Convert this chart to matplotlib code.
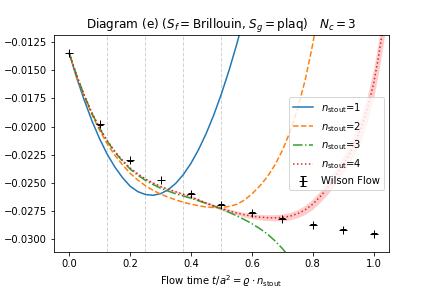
# Curvas de n_stout frente al flujo de Wilson
# diagrama (e) con accion Brillouin y plaqueta

# Para calculos numericos
import numpy as np

# Para crear graficas
import matplotlib
matplotlib.use("Agg")
import matplotlib.pyplot as plt

# puntos del flujo de Wilson
Tiempo_wilson = [0.0, 0.1, 0.2, 0.3, 0.4, 0.5, 0.6, 0.7, 0.8, 0.9, 1.0]
Valor_wilson = [-0.01348, -0.0198, -0.02300, -0.02475, -0.02597, -0.02695,
                -0.02766, -0.02819, -0.02872, -0.02917, -0.02952]
Error_wilson = [0.00003] * 11

# n_stout = 1
Tiempo_1 = [0.0, 0.025, 0.05, 0.075, 0.1, 0.125, 0.15, 0.175, 0.2, 0.225,
            0.25, 0.275, 0.3, 0.325, 0.35, 0.375, 0.4, 0.425, 0.45, 0.475,
            0.5, 0.525, 0.55, 0.575]
Valor_1 = [-0.01348, -0.01571, -0.01770, -0.01952, -0.02110, -0.02247,
           -0.02360, -0.02454, -0.02530, -0.02578, -0.02604, -0.02611,
           -0.02597, -0.02562, -0.02505, -0.02427, -0.02327, -0.02205,
           -0.02062, -0.01897, -0.01710, -0.01502, -0.01273, -0.01023]

# n_stout = 2
Tiempo_2 = [0.0, 0.025, 0.05, 0.075, 0.1, 0.125, 0.15, 0.175, 0.2, 0.225,
            0.25, 0.275, 0.3, 0.325, 0.35, 0.375, 0.4, 0.425, 0.45, 0.475,
            0.5, 0.525, 0.55, 0.575, 0.6, 0.625, 0.65, 0.675, 0.7, 0.725,
            0.75, 0.775, 0.8, 0.825]
Valor_2 = [-0.01348, -0.01560, -0.01735, -0.01895, -0.02035, -0.02155,
           -0.02255, -0.02340, -0.02415, -0.02475, -0.02525, -0.02566,
           -0.02600, -0.02628, -0.02652, -0.02673, -0.02690, -0.02704,
           -0.02715, -0.02720, -0.02720, -0.02710, -0.02692, -0.02655,
           -0.02600, -0.02532, -0.02450, -0.02345, -0.02215, -0.02050,
           -0.01845, -0.01590, -0.01270, -0.00880]

# n_stout = 3
Tiempo_3 = [0.0, 0.025, 0.05, 0.075, 0.1, 0.125, 0.15, 0.175, 0.2, 0.225,
            0.25, 0.275, 0.3, 0.325, 0.35, 0.375, 0.4, 0.425, 0.45, 0.475,
            0.5, 0.525, 0.55, 0.575, 0.6, 0.625, 0.65, 0.675, 0.7, 0.72]
Valor_3 = [-0.01348, -0.01550, -0.01728, -0.01885, -0.02018, -0.02130,
           -0.02228, -0.02308, -0.02378, -0.02432, -0.02478, -0.02515,
           -0.02548, -0.02574, -0.02598, -0.02618, -0.02638, -0.02660,
           -0.02683, -0.02707, -0.02733, -0.02762, -0.02793, -0.02826,
           -0.02863, -0.02905, -0.02953, -0.03013, -0.03083, -0.03150]

# n_stout = 4 con banda de error
Tiempo_4 = [0.0, 0.025, 0.05, 0.075, 0.1, 0.125, 0.15, 0.175, 0.2, 0.225,
            0.25, 0.275, 0.3, 0.325, 0.35, 0.375, 0.4, 0.425, 0.45, 0.475,
            0.5, 0.525, 0.55, 0.575, 0.6, 0.625, 0.65, 0.675, 0.7, 0.725,
            0.75, 0.775, 0.8, 0.825, 0.85, 0.875, 0.9, 0.92, 0.94, 0.96,
            0.98, 1.0, 1.015, 1.03, 1.045]
Valor_4 = [-0.01348, -0.01550, -0.01725, -0.01880, -0.02012, -0.02125,
           -0.02220, -0.02300, -0.02368, -0.02420, -0.02465, -0.02500,
           -0.02532, -0.02557, -0.02580, -0.02602, -0.02625, -0.02652,
           -0.02680, -0.02705, -0.02728, -0.02749, -0.02768, -0.02784,
           -0.02796, -0.02805, -0.02810, -0.02811, -0.02808, -0.02797,
           -0.02775, -0.02740, -0.02690, -0.02622, -0.02540, -0.02445,
           -0.02340, -0.02245, -0.02140, -0.02010, -0.01840, -0.01620,
           -0.01400, -0.01140, -0.00850]
Error_4 = [0.0, 0.000005, 0.00001, 0.000015, 0.00002, 0.000025, 0.00003,
           0.000035, 0.00004, 0.000045, 0.00005, 0.000055, 0.00006,
           0.00007, 0.00008, 0.00009, 0.0001, 0.00011, 0.00012, 0.000135,
           0.00015, 0.000165, 0.00018, 0.0002, 0.00022, 0.00024, 0.00026,
           0.00028, 0.0003, 0.00033, 0.00036, 0.0004, 0.00045, 0.0005,
           0.00058, 0.00066, 0.00075, 0.00084, 0.00094, 0.00105, 0.00115,
           0.0013, 0.0014, 0.0016, 0.0017]

# lineas verticales
Lineas_verticales = [0.125, 0.25, 0.375, 0.5]

# crear figura
Figura, Ejes = plt.subplots(
    figsize=(6, 4),
    dpi=72
)

plt.subplots_adjust(
    left=0.125,
    right=0.9,
    top=0.878,
    bottom=0.125
)

for Posicion in Lineas_verticales:
    Ejes.axvline(
        Posicion,
        color="lightgray",
        lw=1,
        ls="--"
    )

Ejes.plot(Tiempo_1, Valor_1, color="tab:blue", ls="-",
          label=r"$n_{\rm stout}$=1")
Ejes.plot(Tiempo_2, Valor_2, color="tab:orange", ls="--",
          label=r"$n_{\rm stout}$=2")
Ejes.plot(Tiempo_3, Valor_3, color="tab:green", ls="-.",
          label=r"$n_{\rm stout}$=3")

Tiempo_4 = np.array(Tiempo_4)
Valor_4 = np.array(Valor_4)
Error_4 = np.array(Error_4)

Ejes.fill_between(
    Tiempo_4,
    Valor_4 - Error_4,
    Valor_4 + Error_4,
    color="red",
    alpha=0.2,
    lw=0
)
Ejes.plot(Tiempo_4, Valor_4, color="tab:red", ls=":",
          label=r"$n_{\rm stout}$=4")

# flujo de Wilson
Ejes.errorbar(
    Tiempo_wilson,
    Valor_wilson,
    yerr=Error_wilson,
    fmt="+",
    color="black",
    markersize=8,
    capsize=3,
    label="Wilson Flow"
)

Ejes.set_xlim(-0.05, 1.05)
Ejes.set_ylim(-0.03115, -0.01188)

Ejes.set_title(
    r"Diagram (e) ($S_f = $Brillouin, $S_g = $plaq)$\quad N_c = 3$"
)
Ejes.set_xlabel(
    r"Flow time $t/a^2 = \varrho \cdot n_{\rm stout}$"
)

Ejes.legend(loc="center right")

plt.savefig("out.png", dpi=72)
